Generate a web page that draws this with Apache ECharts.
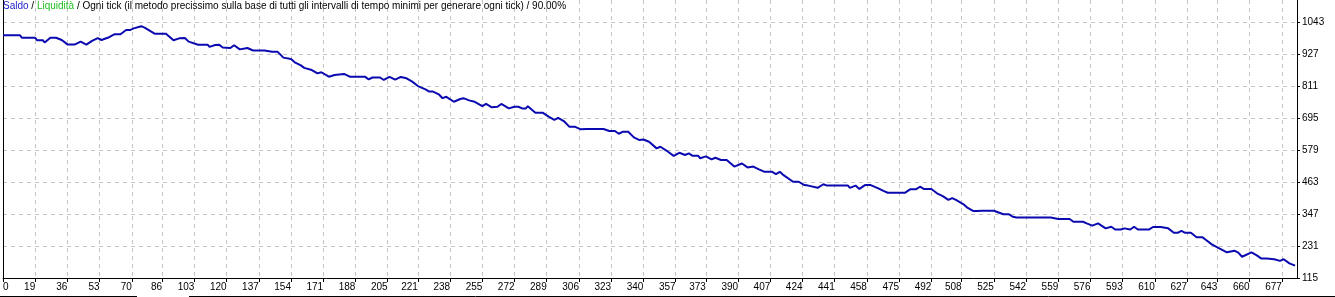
<!DOCTYPE html>
<html>
<head>
<meta charset="utf-8">
<script src="https://cdn.jsdelivr.net/npm/echarts@6/dist/echarts.min.js"></script>
<style>
html,body{margin:0;padding:0;background:#fff;}
#chart{width:1335px;height:297px;}
</style>
</head>
<body>
<div id="chart"></div>
<script>
// Trade numbers and balance values
const trades = [2,11,12,19,20,23,24,27,30,33,36,40,43,46,49,52,54,58,61,64,67,69,71,75,77,82,88,92,95,98,100,105,110,111,114,116,118,122,124,127,131,134,140,144,147,150,151,154,156,159,161,165,168,170,174,177,178,182,185,186,188,193,195,197,201,203,206,209,212,215,218,221,225,227,229,232,234,236,240,241,243,245,248,249,251,255,257,260,263,265,269,272,273,274,276,278,279,283,287,290,293,295,298,301,304,307,310,313,314,316,319,322,325,327,329,332,335,338,340,343,347,349,353,356,359,362,364,366,369,370,373,376,378,381,384,388,392,395,398,401,404,408,410,412,414,419,422,425,427,428,432,435,437,448,449,452,454,457,460,461,464,467,469,473,474,476,478,481,484,486,488,492,495,498,501,503,505,506,509,511,514,516,517,519,525,526,530,533,535,537,542,543,545,548,549,551,555,556,559,563,564,565,567,572,574,577,578,580,584,585,587,589,592,594,597,599,601,607,609,613,614,617,620,622,624,626,629,632,635,637,640,643,645,648,649,652,654,656,661,664,666,669,670,673,676,678,681,684];
const balance = [995,995,986,986,977,977,969,986,986,978,962,962,972,961,975,985,978,988,999,999,1014,1014,1020,1028,1022,1001,1001,977,984,985,972,961,961,953,960,961,951,949,959,944,949,940,940,935,935,914,909,909,897,887,877,869,857,861,845,851,844,855,845,851,845,845,835,842,842,833,844,834,844,839,827,811,799,791,791,781,767,772,754,754,763,767,759,763,754,738,746,734,736,746,730,736,733,736,730,730,738,714,714,700,688,696,684,663,663,654,655,655,660,655,655,648,648,638,645,645,625,615,617,609,585,591,573,558,569,561,567,558,558,549,556,545,551,543,543,519,530,516,519,509,500,500,492,500,488,464,464,452,450,456,442,455,450,450,442,450,438,452,452,456,440,430,424,424,417,424,424,437,437,446,438,438,422,412,398,405,398,398,382,370,358,358,352,359,359,365,346,346,337,334,334,340,334,334,340,334,334,340,329,329,324,329,319,319,313,305,307,313,295,295,301,291,291,295,291,301,291,291,300,300,295,295,279,279,286,279,279,263,263,253,237,226,219,208,214,214,207,192,208,196,186,186,179,183,177,183,168,160];

const xTickLabels = [0,19,36,53,70,86,103,120,137,154,171,188,205,221,238,255,272,289,306,323,340,357,373,390,407,424,441,458,475,492,508,525,542,559,576,593,610,627,643,660,677];
const yTickLabels = [115,231,347,463,579,695,811,927,1043];

const titleParts = ['Saldo', 'Liquidità', 'Ogni tick (il metodo precissimo sulla base di tutti gli intervalli di tempo minimi per generare ogni tick)', '90.00%'];

const X_MIN = 2, X_MAX = 685, Y_MIN = 115, Y_MAX = 1123;
const FONT = 'Liberation Sans';
const gridLine = {show: true, lineStyle: {color: '#c4c4c4', type: [4, 4], width: 1}};

const xPos = xTickLabels.map(v => Math.max(v, X_MIN));
const labelOf = {};
xTickLabels.forEach((v, i) => { labelOf[xPos[i]] = String(v); });

const chart = echarts.init(document.getElementById('chart'), null, {renderer: 'canvas'});
chart.setOption({
  animation: false,
  backgroundColor: '#ffffff',
  title: {
    text: '{b|' + titleParts[0] + '} / {g|' + titleParts[1] + '} / ' + titleParts[2] + ' / ' + titleParts[3],
    left: 3, top: 1, padding: 0,
    textStyle: {
      fontFamily: FONT, fontSize: 10, fontWeight: 'normal', color: '#000000',
      rich: {
        b: {color: '#1a1acc', fontFamily: FONT, fontSize: 10},
        g: {color: '#22c022', fontFamily: FONT, fontSize: 10}
      }
    }
  },
  grid: {left: 0, right: 38, top: 0, bottom: 19, containLabel: false},
  xAxis: {
    type: 'value', min: X_MIN, max: X_MAX,
    axisLine: {show: true, lineStyle: {color: '#000', width: 1}},
    axisTick: {show: true, length: 4, customValues: xPos, lineStyle: {color: '#000'}},
    axisLabel: {
      customValues: xPos, margin: 4, align: 'right', alignMinLabel: 'left',
      fontFamily: FONT, fontSize: 10, color: '#000',
      formatter: v => labelOf[v] !== undefined ? labelOf[v] : String(v)
    },
    splitLine: gridLine
  },
  yAxis: [{
    type: 'value', position: 'right', min: Y_MIN, max: Y_MAX,
    axisLine: {show: true, lineStyle: {color: '#000', width: 1}},
    axisTick: {show: true, length: 3, customValues: yTickLabels, lineStyle: {color: '#000'}},
    axisLabel: {customValues: yTickLabels, margin: 5, fontFamily: FONT, fontSize: 10, color: '#000',
      formatter: v => String(v)},
    splitLine: gridLine
  }, {
    type: 'value', position: 'left', min: Y_MIN, max: Y_MAX,
    axisLine: {show: true, onZero: false, lineStyle: {color: '#000', width: 1}},
    axisTick: {show: false}, axisLabel: {show: false}, splitLine: {show: false}
  }],
  graphic: [
    {type: 'line', shape: {x1: 0, y1: 296.5, x2: 137, y2: 296.5}, style: {stroke: '#000', lineWidth: 1}},
    {type: 'line', shape: {x1: 189, y1: 296.5, x2: 1335, y2: 296.5}, style: {stroke: '#000', lineWidth: 1}}
  ],
  series: [{
    name: titleParts[0], type: 'line', yAxisIndex: 0,
    data: trades.map((t, i) => [t, balance[i]]),
    showSymbol: false, symbol: 'none',
    lineStyle: {color: '#0a0ab0', width: 2},
    z: 3
  }]
});
</script>
</body>
</html>
